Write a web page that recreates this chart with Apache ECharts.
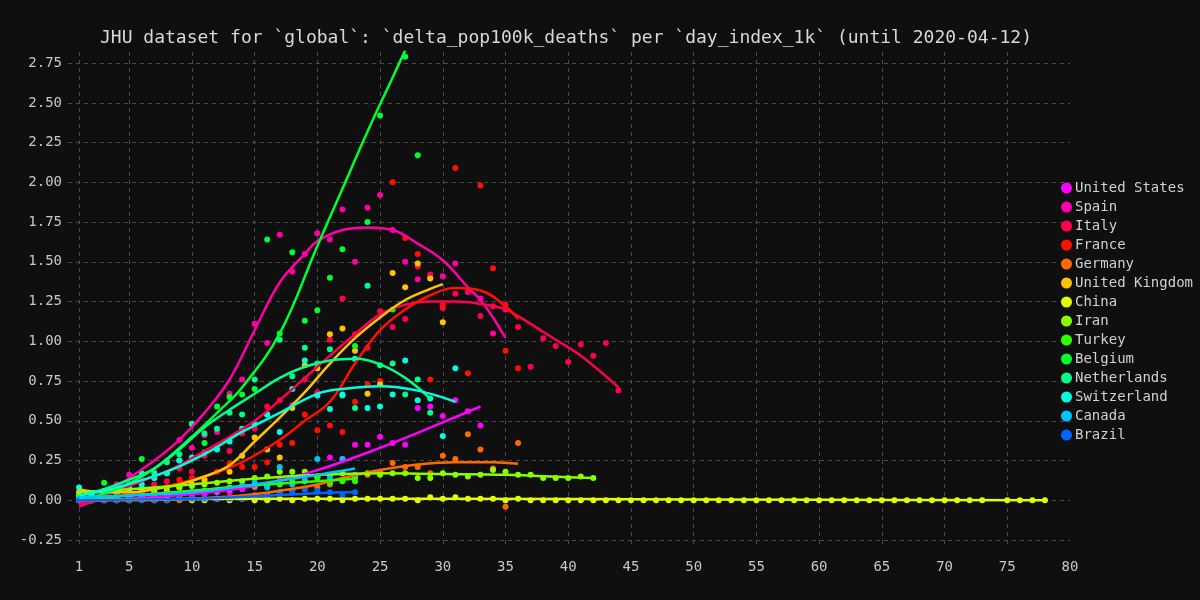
<!DOCTYPE html>
<html><head><meta charset="utf-8">
<script src="https://cdn.jsdelivr.net/npm/echarts@6/dist/echarts.min.js"></script>
<style>html,body{margin:0;padding:0;background:#0f0f0f;}#c{width:1200px;height:600px;}</style>
</head><body><div id="c"></div>
<script>
const TITLE = "JHU dataset for `global`: `delta_pop100k_deaths` per `day_index_1k` (until 2020-04-12)";
const countries = ["United States","Spain","Italy","France","Germany","United Kingdom","China","Iran","Turkey","Belgium","Netherlands","Switzerland","Canada","Brazil"];
const colors = ["#ff00ff","#ff00a6","#ff004d","#ff1100","#ff6a00","#ffc400","#e1ff00","#88ff00","#2aff00","#00ff2f","#00ff88","#00ffe1","#00c4ff","#0066ff"];
const xTickLabels = [1,5,10,15,20,25,30,35,40,45,50,55,60,65,70,75,80];
const yTickLabels = [-0.25,0,0.25,0.5,0.75,1,1.25,1.5,1.75,2,2.25,2.5,2.75];

// daily values, index 0 = day 1
const ptsUS = [0.00,0.00,0.00,0.01,0.01,0.01,0.02,0.02,0.03,0.03,0.04,0.05,0.05,0.07,0.08,0.10,0.13,0.12,0.14,0.15,0.27,0.26,0.35,0.35,0.40,0.36,0.35,0.58,0.59,0.53,0.63,0.56,0.47];
const ptsSpain = [0.01,0.03,0.05,0.10,0.16,0.13,0.18,0.25,0.38,0.33,0.41,0.43,0.67,0.76,1.11,0.99,1.67,1.44,1.55,1.68,1.64,1.83,1.50,1.84,1.92,1.70,1.50,1.39,1.40,1.41,1.49,1.31,1.27,1.05,1.20];
const ptsItaly = [0.00,0.01,0.02,0.03,0.05,0.06,0.10,0.12,0.20,0.18,0.28,0.33,0.31,0.42,0.45,0.59,0.63,0.60,0.76,0.68,1.01,1.27,1.045,0.96,1.19,1.09,1.14,1.47,1.42,1.21,1.30,1.32,1.16,1.22,1.23,1.09,0.84,1.02,0.97,0.87,0.98,0.91,0.99,0.69];
const ptsFrance = [0.00,0.00,0.01,0.02,0.03,0.05,0.07,0.06,0.13,0.14,0.12,0.18,0.23,0.21,0.21,0.24,0.35,0.36,0.54,0.44,0.47,0.43,0.62,0.73,0.75,2.00,1.65,1.55,0.76,1.23,2.09,0.80,1.98,1.46,0.94,0.83];
const ptsGermany = [0.00,0.00,0.00,0.00,0.00,0.00,0.00,0.00,0.00,0.01,0.01,0.01,0.01,0.02,0.03,0.03,0.05,0.06,0.07,0.08,0.10,0.13,0.14,0.16,0.18,0.235,0.21,0.21,0.17,0.28,0.26,0.415,0.32,0.20,-0.04,0.36];
const ptsUK = [0.05,0.04,0.03,0.04,0.04,0.03,0.05,0.06,0.08,0.10,0.13,0.06,0.18,0.28,0.395,0.32,0.27,0.58,0.85,0.83,1.045,1.08,0.94,0.67,0.73,1.43,1.34,1.49,1.395,1.12];
const ptsChina = [0.00,0.00,0.00,0.00,0.00,0.01,0.00,0.00,0.01,0.00,0.00,0.01,0.00,0.01,0.00,0.00,0.01,0.00,0.01,0.01,0.01,0.00,0.01,0.01,0.01,0.01,0.01,0.00,0.02,0.01,0.02,0.01,0.01,0.01,0.00,0.01,0.00,0.00,0.00,0.00,0.00,0.00,0.00,0.00,0.00,0.00,0.00,0.00,0.00,0.00,0.00,0.00,0.00,0.00,0.00,0.00,0.00,0.00,0.00,0.00,0.00,0.00,0.00,0.00,0.00,0.00,0.00,0.00,0.00,0.00,0.00,0.00,0.00,null,0.00,0.00,0.00,0.00];
const ptsIran = [0.03,0.03,0.04,0.05,0.06,0.07,0.06,0.08,0.08,0.09,0.10,0.11,0.12,0.12,0.14,0.15,0.18,0.18,0.18,0.15,0.16,0.17,0.15,0.17,0.16,0.17,0.17,0.14,0.14,0.17,0.16,0.15,0.16,0.19,0.18,0.16,0.16,0.14,0.14,0.14,0.15,0.14];
const ptsTurkey = [0.00,0.00,0.01,0.01,0.02,0.03,0.02,0.04,0.04,0.05,0.06,0.06,0.08,0.09,0.09,0.09,0.10,0.11,0.12,0.14,0.11,0.12,0.12];
const ptsBelgium = [0.02,0.01,0.11,0.04,0.10,0.26,0.14,0.17,0.25,0.48,0.36,0.59,0.65,0.665,0.70,1.64,1.05,1.56,1.13,1.195,1.40,1.58,0.97,1.75,2.42,1.20,2.79,2.17];
const ptsNetherlands = [0.01,0.02,0.06,0.07,0.10,0.17,0.17,0.24,0.29,0.48,0.42,0.45,0.55,0.54,0.76,0.54,1.01,0.78,0.96,0.86,0.95,0.66,0.58,1.35,0.85,0.86,0.665,0.76,0.55];
const ptsSwitzerland = [0.08,0.03,0.04,0.06,0.08,0.10,0.14,0.17,0.25,0.27,0.30,0.32,0.37,0.45,0.48,0.54,0.43,0.70,0.88,0.66,0.575,0.665,0.89,0.58,0.59,0.665,0.88,0.63,0.64,0.405,0.83];
const ptsCanada = [0.01,0.01,0.02,0.02,0.02,0.03,0.03,0.04,0.04,0.05,0.06,0.06,0.07,0.09,0.11,0.08,0.21,0.10,0.12,0.26,0.14,0.26,0.16];
const ptsBrazil = [0.00,0.00,0.00,0.00,0.00,0.00,0.00,0.00,0.01,0.01,0.01,0.01,0.01,0.01,0.02,0.02,0.04,0.06,0.07,0.06,0.05,0.03,0.05];

// fitted trend curves: [day, value]
const fitUS = [[1,-0.01],[5,0.01],[10,0.04],[15,0.09],[20,0.19],[25,0.33],[30,0.49],[33,0.59]];
const fitSpain = [[1,-0.04],[3,0.03],[5,0.14],[7,0.25],[9,0.38],[11,0.55],[13,0.76],[15,1.07],[17,1.37],[19,1.55],[20,1.63],[22,1.70],[24,1.716],[26,1.70],[28,1.615],[30,1.51],[32,1.34],[33,1.26],[34,1.15],[35,1.02]];
const fitItaly = [[1,-0.03],[3,0.03],[5,0.09],[7,0.15],[9,0.22],[11,0.31],[13,0.40],[15,0.50],[17,0.63],[19,0.77],[21,0.91],[23,1.045],[25,1.17],[27,1.23],[29,1.25],[31,1.25],[33,1.235],[35,1.20],[37,1.11],[38,1.06],[39,1.01],[41,0.91],[43,0.78],[44,0.71]];
const fitFrance = [[1,0.0],[5,0.04],[8,0.09],[11,0.15],[14,0.24],[17,0.38],[19,0.50],[21,0.62],[23,0.86],[25,1.07],[27,1.20],[29,1.29],[31,1.335],[33,1.32],[35,1.22],[36,1.14]];
const fitGermany = [[1,0.0],[5,0.0],[10,0.01],[14,0.03],[17,0.06],[20,0.10],[22,0.14],[25,0.19],[28,0.225],[31,0.24],[34,0.24],[36,0.23]];
const fitUK = [[1,0.07],[3,0.05],[5,0.05],[7,0.07],[9,0.10],[11,0.15],[13,0.22],[15,0.37],[17,0.52],[19,0.68],[21,0.86],[23,1.02],[25,1.15],[27,1.26],[29,1.33],[30,1.36]];
const fitChina = [[1,0.005],[20,0.01],[40,0.008],[60,0.003],[78,0.0]];
const fitIran = [[1,0.05],[5,0.07],[10,0.10],[15,0.135],[20,0.16],[25,0.17],[30,0.165],[35,0.16],[40,0.145],[42,0.14]];
const fitTurkey = [[1,0.01],[5,0.03],[10,0.06],[14,0.09],[18,0.11],[23,0.135]];
const fitBelgium = [[1,0.0],[4,0.07],[7,0.2],[10,0.40],[12,0.55],[14,0.71],[17,1.05],[20,1.60],[22,1.96],[24,2.32],[26,2.66],[28,3.00]];
const fitNetherlands = [[1,0.03],[3,0.07],[5,0.13],[7,0.20],[9,0.32],[11,0.46],[13,0.57],[15,0.67],[17,0.77],[19,0.84],[21,0.88],[23,0.89],[25,0.855],[27,0.77],[29,0.64]];
const fitSwitzerland = [[1,0.03],[4,0.08],[8,0.18],[11,0.29],[14,0.43],[17,0.55],[20,0.67],[22,0.70],[25,0.717],[28,0.69],[31,0.62]];
const fitCanada = [[1,0.02],[5,0.03],[10,0.05],[15,0.10],[20,0.16],[23,0.20]];
const fitBrazil = [[1,0.0],[5,0.005],[10,0.01],[15,0.025],[20,0.045],[23,0.05]];

const allPts = [ptsUS,ptsSpain,ptsItaly,ptsFrance,ptsGermany,ptsUK,ptsChina,ptsIran,ptsTurkey,ptsBelgium,ptsNetherlands,ptsSwitzerland,ptsCanada,ptsBrazil];
const allFits = [fitUS,fitSpain,fitItaly,fitFrance,fitGermany,fitUK,fitChina,fitIran,fitTurkey,fitBelgium,fitNetherlands,fitSwitzerland,fitCanada,fitBrazil];

const FONT = "DejaVu Sans Mono";
const series = [];
countries.forEach((name, i) => {
  series.push({
    name, type: 'scatter', symbolSize: 6, color: colors[i],
    data: allPts[i].map((v, k) => [k + 1, v]).filter(p => p[1] !== null),
    itemStyle: { color: colors[i], opacity: 1 }, z: 2
  });
});
countries.forEach((name, i) => {
  series.push({
    name, type: 'line', smooth: 0.4, showSymbol: false, symbol: 'none', color: colors[i],
    data: allFits[i], lineStyle: { width: 2.5, color: colors[i] }, z: 3, clip: true
  });
});

const chart = echarts.init(document.getElementById('c'), null, { renderer: 'canvas' });
chart.setOption({
  animation: false,
  backgroundColor: '#0f0f0f',
  title: { text: TITLE, left: 95, top: 24, textStyle: { color: '#d8d8d8', fontFamily: FONT, fontSize: 18, fontWeight: 'normal' } },
  legend: {
    orient: 'vertical', left: 1056, top: 176, icon: 'circle', itemWidth: 11, itemHeight: 11, itemGap: 5,
    data: countries, textStyle: { color: '#d0d0d0', fontFamily: FONT, fontSize: 14, padding: [0,0,0,-2] }
  },
  grid: { left: 68, right: 130, top: 52, bottom: 52 },
  xAxis: {
    type: 'value', min: 0.12, max: 80,
    axisLine: { show: false },
    axisTick: { show: false, customValues: xTickLabels.slice(0, -1) },
    axisLabel: { customValues: xTickLabels, color: '#c8c8c8', fontFamily: FONT, fontSize: 14, margin: 12 },
    splitLine: { show: true, lineStyle: { color: '#4a4a4a', type: [4, 4], width: 1 } }
  },
  yAxis: {
    type: 'value', min: -0.30, max: 2.82,
    axisLine: { show: false },
    axisTick: { show: false, customValues: yTickLabels },
    axisLabel: { customValues: yTickLabels, color: '#c8c8c8', fontFamily: FONT, fontSize: 14, margin: 6, formatter: v => v.toFixed(2) },
    splitLine: { show: true, lineStyle: { color: '#4a4a4a', type: [4, 4], width: 1 } }
  },
  series
});
</script></body></html>
